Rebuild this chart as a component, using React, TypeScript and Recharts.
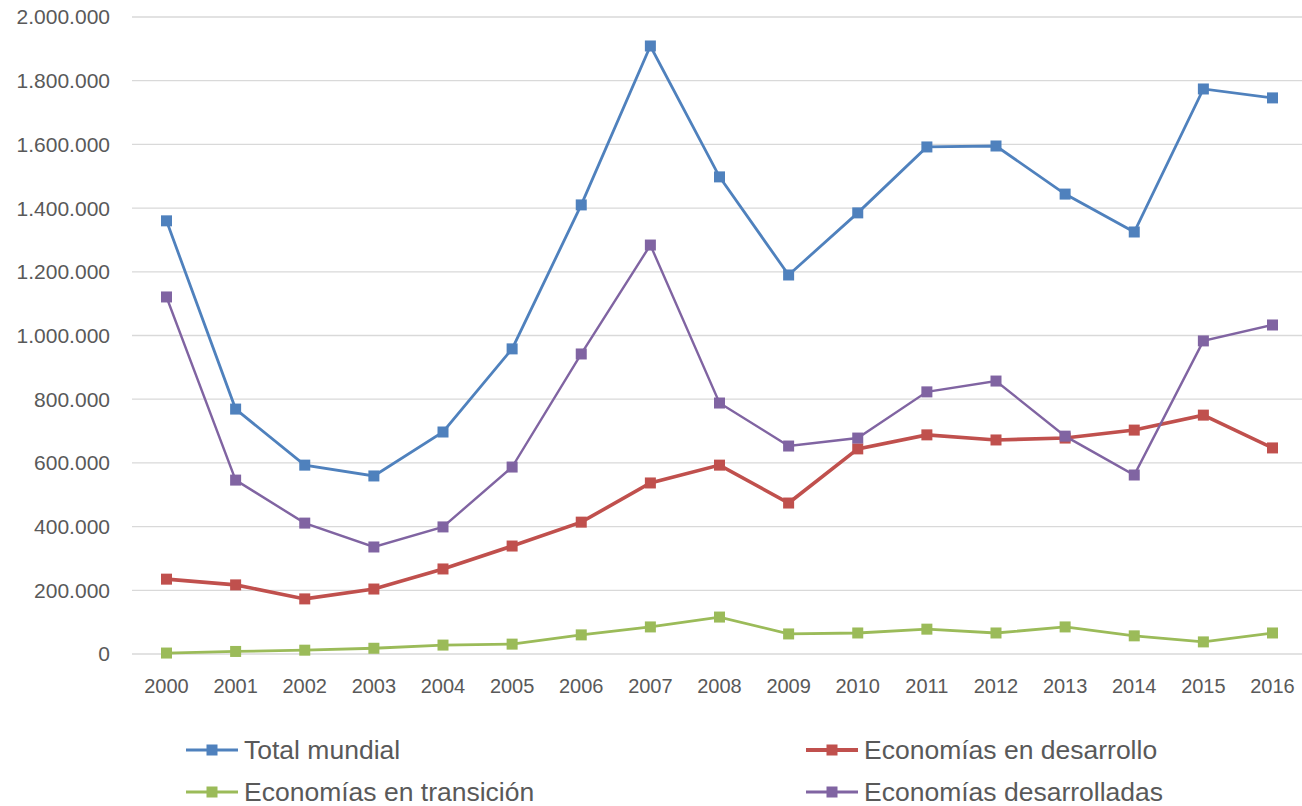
import React from 'react';
import { LineChart, Line, XAxis, YAxis, CartesianGrid } from 'recharts';

const years = ['2000','2001','2002','2003','2004','2005','2006','2007','2008','2009','2010','2011','2012','2013','2014','2015','2016'];
const totalMundial = [1360000, 769000, 593000, 559000, 697000, 958000, 1410000, 1909000, 1498000, 1190000, 1385000, 1592000, 1595000, 1444000, 1325000, 1774000, 1746000];
const enDesarrollo = [235000, 217000, 173000, 204000, 267000, 339000, 414000, 537000, 593000, 474000, 644000, 688000, 672000, 678000, 703000, 750000, 647000];
const enTransicion = [3000, 8000, 12000, 18000, 28000, 31000, 60000, 85000, 116000, 63000, 66000, 78000, 66000, 85000, 57000, 38000, 66000];
const desarrolladas = [1121000, 546000, 411000, 336000, 399000, 587000, 942000, 1284000, 788000, 653000, 678000, 823000, 857000, 684000, 562000, 983000, 1033000];
const yTicks = [0, 200000, 400000, 600000, 800000, 1000000, 1200000, 1400000, 1600000, 1800000, 2000000];

const data = years.map((y, i) => ({
  year: y,
  total: totalMundial[i],
  desarrollo: enDesarrollo[i],
  transicion: enTransicion[i],
  desarrolladas: desarrolladas[i],
}));

const series = [
  { key: 'total', name: 'Total mundial', color: '#4F81BD', width: 2.8 },
  { key: 'desarrollo', name: 'Economías en desarrollo', color: '#C0504D', width: 3.6 },
  { key: 'transicion', name: 'Economías en transición', color: '#9BBB59', width: 2.8 },
  { key: 'desarrolladas', name: 'Economías desarrolladas', color: '#8064A2', width: 2.4 },
];

const fmt = (v: number) => String(v).replace(/\B(?=(\d{3})+(?!\d))/g, '.');

const SquareDot = (props: any) => {
  const { cx, cy, stroke } = props;
  if (cx == null || cy == null) return null;
  return <rect x={cx - 5.5} y={cy - 5.5} width={11} height={11} fill={stroke} />;
};

const LegendBlock = () => {
  const pos = [
    { left: 185, top: 735 },
    { left: 805, top: 735 },
    { left: 185, top: 777 },
    { left: 805, top: 777 },
  ];
  return (
    <>
      {series.map((s, i) => (
        <div key={s.key} style={{ position: 'absolute', left: pos[i].left, top: pos[i].top, display: 'flex', alignItems: 'center', height: 30 }}>
          <svg width={54} height={14} style={{ marginRight: 5 }}>
            <line x1={1} y1={7} x2={53} y2={7} stroke={s.color} strokeWidth={s.width + 0.4} />
            <rect x={21.5} y={1.5} width={11} height={11} fill={s.color} />
          </svg>
          <span style={{ fontFamily: 'Liberation Sans, Arial, sans-serif', fontSize: 26.5, color: '#595959', whiteSpace: 'nowrap' }}>{s.name}</span>
        </div>
      ))}
    </>
  );
};

export default function App() {
  return (
    <div style={{ position: 'absolute', left: 0, top: 0, width: 1302, height: 806, overflow: 'hidden', background: '#fff' }}>
      <LineChart width={1310} height={806} data={data} margin={{ top: 17, right: 3, left: 0, bottom: 112 }}>
        <CartesianGrid horizontal vertical={false} stroke="#D9D9D9" strokeWidth={1.3} />
        <XAxis
          dataKey="year"
          axisLine={false}
          tickLine={false}
          tickSize={0}
          tickMargin={25}
          height={40}
          padding={{ left: 34.5, right: 34.5 }}
          tick={{ fill: '#595959', fontSize: 20, fontFamily: 'Liberation Sans, Arial, sans-serif' }}
          interval={0}
        />
        <YAxis
          domain={[0, 2000000]}
          ticks={yTicks}
          tickFormatter={fmt}
          axisLine={false}
          tickLine={false}
          tickSize={0}
          tickMargin={22}
          width={132}
          interval={0}
          tick={{ fill: '#595959', fontSize: 21, fontFamily: 'Liberation Sans, Arial, sans-serif' }}
        />
        {series.map((s) => (
          <Line
            key={s.key}
            type="linear"
            dataKey={s.key}
            name={s.name}
            stroke={s.color}
            strokeWidth={s.width}
            dot={<SquareDot />}
            activeDot={false}
            isAnimationActive={false}
          />
        ))}
      </LineChart>
      <LegendBlock />
    </div>
  );
}
